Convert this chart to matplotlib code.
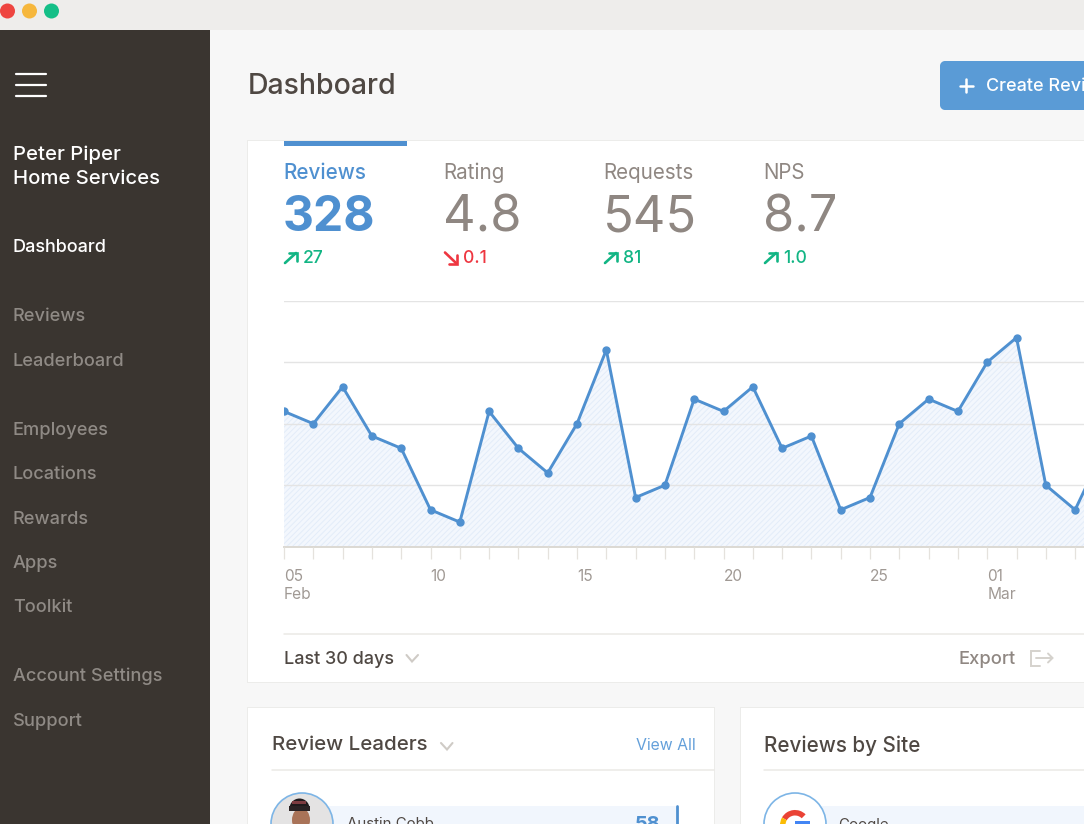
import matplotlib
matplotlib.use("Agg")
import matplotlib.pyplot as plt
from matplotlib.patches import Rectangle, FancyBboxPatch, Circle, Wedge, Ellipse

plt.rcParams['font.family'] = ['Inter', 'DejaVu Sans']
plt.rcParams['hatch.linewidth'] = 0.7
plt.rcParams['hatch.color'] = '#e3ecf9'

# ---- data ----
day_index = list(range(29))
reviews = [11, 10, 13, 9, 8, 3, 2, 11, 8, 6, 10, 16, 4, 5, 12, 11, 13, 8, 9, 3, 4, 10, 12, 11, 15, 17, 5, 3, 8]
tick_positions = [0, 5, 10, 15, 20, 24]
tick_days = ['05', '10', '15', '20', '25', '01']
tick_months = ['Feb', '', '', '', '', 'Mar']

kpi_names = ['Reviews', 'Rating', 'Requests', 'NPS']
kpi_values = ['328', '4.8', '545', '8.7']
kpi_deltas = ['27', '0.1', '81', '1.0']
kpi_up = [True, False, True, True]

nav_top = ['Dashboard']
nav_groups = ['Reviews', 'Leaderboard', 'Employees', 'Locations', 'Rewards', 'Apps', 'Toolkit', 'Account Settings', 'Support']

BLUE = '#4f90d0'
GREY = '#8f8782'
DARK = '#4f4843'
GREEN = '#12b584'
RED = '#ee3640'

W, H = 1084, 824
fig = plt.figure(figsize=(W / 100, H / 100), dpi=100)
bg = fig.add_axes([0, 0, 1, 1], zorder=0)
bg.set_xlim(0, W)
bg.set_ylim(H, 0)
bg.axis('off')


def px(size):
    return size * 0.72


def rect(x0, y0, x1, y1, color, ax=bg, z=1, **kw):
    ax.add_patch(Rectangle((x0, y0), x1 - x0, y1 - y0, fc=color, ec='none', zorder=z, **kw))


def txt(x, y, s, size, color, weight='normal', ha='left', va='center', z=6):
    bg.text(x, y + 1.5, s, fontsize=px(size), color=color, fontweight=weight, ha=ha, va=va, zorder=z)


def seg(xs, ys, color, lw=1.0, z=5):
    bg.plot(xs, ys, color=color, lw=lw, solid_capstyle='round', solid_joinstyle='miter', zorder=z)


# window chrome
rect(0, 0, W, H, '#f7f7f7', z=0)
rect(0, 0, W, 29.5, '#eeedeb')
rect(0, 29.5, 210, H, '#3a3530')
for cx, c in zip([7.5, 29.5, 51.5], ['#ee4540', '#f6b73c', '#14bf87']):
    bg.add_patch(Circle((cx, 11), 7.5, fc=c, ec='none', zorder=3))

# sidebar
for y in [74, 85, 96]:
    seg([15.5, 46], [y, y], 'white', 1.6)
txt(13, 153, 'Peter Piper', 20.3, 'white', 'medium')
txt(13, 177.5, 'Home Services', 20.3, 'white', 'medium')
txt(13, 246, nav_top[0], 18, 'white', 'medium')
for y, s in zip([315, 359.5, 428.5, 473, 517.5, 561.5, 605.5, 675, 719.5], nav_groups):
    txt(13, y, s, 18.2, '#8f8a85', 'medium')

# header
txt(248, 85, 'Dashboard', 28.5, DARK, 'medium')
bg.add_patch(FancyBboxPatch((944, 65), 160, 41, boxstyle='round,pad=0,rounding_size=1', fc='#5a9bd6',
                            ec='#5a9bd6', lw=8 * 0.72, joinstyle='round', zorder=2, clip_on=True))
seg([959.5, 972.5], [85.5, 85.5], 'white', 1.8)
seg([966, 966], [79, 92], 'white', 1.8)
txt(986, 84.5, 'Create Review', 18, 'white', 'medium')

# main card
rect(247, 140, W, 683, '#ececea', z=1)
rect(248, 141, W, 682, 'white', z=1)
rect(284, 141, 407, 145.5, BLUE, z=2)

for i, x in enumerate([284, 444, 604, 764]):
    active = i == 0
    col = BLUE if active else GREY
    txt(x - 1, 171, kpi_names[i], 20.6, col, 'medium' if active else 'normal')
    txt(x + (-1.5 if active else -1.5), 216.5, kpi_values[i], 48 if active else 50.5, col,
        'bold' if active else 'normal')
    dcol = GREEN if kpi_up[i] else RED
    txt(x + 19, 257, kpi_deltas[i], 17.5, dcol, 'medium')
    if kpi_up[i]:
        seg([x + 1, x + 12], [263, 253], dcol, 1.9)
        seg([x + 4.5, x + 12.5, x + 12.5], [253, 253, 261], dcol, 1.9)
    else:
        seg([x + 1, x + 12], [252.5, 263], dcol, 1.9)
        seg([x + 4.5, x + 12.5, x + 12.5], [263.5, 263.5, 255], dcol, 1.9)

# chart axes: day 0 at x=284, y=0 at the axis line, y=20 at the top rule
ax = fig.add_axes([284 / W, 1 - 546.7 / H, (W - 284) / W, 246 / H], zorder=1)
ax.patch.set_alpha(0)
ax.fill_between(day_index, reviews, 0, facecolor='#f3f7fd', edgecolor='#e3ecf9', hatch='//////', lw=0, zorder=1)
ax.set_yticks([0, 5, 10, 15, 20])
ax.yaxis.grid(True, color='#e4e4e4', lw=1.0, zorder=2)
ax.set_axisbelow(False)
ax.plot(day_index, reviews, color=BLUE, lw=2.1, marker='o', ms=5, mfc=BLUE, mec=BLUE, zorder=4, clip_on=True)
ax.tick_params(axis='y', length=0, labelleft=False)
ax.set_xticks(day_index)
ax.tick_params(axis='x', length=8.5, width=0.9, color='#e5e2dd', labelbottom=False)
ax.set_xlim(0, (W - 284) / 29.3)
ax.set_ylim(0, 20)
for s in ['top', 'left', 'right']:
    ax.spines[s].set_visible(False)
ax.spines['bottom'].set_color('#dcd9d3')
ax.spines['bottom'].set_linewidth(1.4)
ax.yaxis.get_gridlines()[0].set_visible(False)
for p, d, m in zip(tick_positions, tick_days, tick_months):
    ax.annotate(d, (p, 0), xytext=(0, -21.5), textcoords='offset points', fontsize=px(15.5), color='#a09994',
                ha='left', va='center', annotation_clip=False)
    if m:
        ax.annotate(m, (p, 0), xytext=(0, -34.5), textcoords='offset points', fontsize=px(15.5), color='#a09994',
                    ha='left', va='center', annotation_clip=False)

# card footer
seg([284, W], [634, 634], '#ebe9e6', 1.1)
txt(284, 657.5, 'Last 30 days', 18, DARK, 'medium')
seg([406.5, 412, 418], [655, 661.5, 655], '#cfcbc6', 1.5)
txt(958, 657.5, 'Export', 18.3, GREY, 'medium')
seg([1040, 1031, 1031, 1040], [650.5, 650.5, 666, 666], '#d5d2cd', 1.4)
seg([1036, 1052], [658, 658], '#d5d2cd', 1.4)
seg([1048, 1052.5, 1048], [653.5, 658, 662.5], '#d5d2cd', 1.4)

# lower cards
rect(247, 707, 715, H, '#ececea', z=1)
rect(248, 708, 714, H, 'white', z=1)
rect(740, 707, W, H, '#ececea', z=1)
rect(741, 708, W, H, 'white', z=1)
txt(272, 744, 'Review Leaders', 20.5, DARK, 'medium')
seg([441, 447, 452.5], [743, 749.5, 743], '#cfcbc6', 1.5)
txt(696, 744, 'View All', 15.8, '#64a0da', 'normal', ha='right')
txt(764.5, 744, 'Reviews by Site', 20.6, DARK, 'medium')
seg([272, 714], [769.5, 769.5], '#ebe9e6', 1.1)
seg([764, W], [769.5, 769.5], '#ebe9e6', 1.1)

# leader row
rect(320, 806, 677, H, '#f1f6fd', z=2, hatch='//////', lw=0)
seg([677, 677], [806, H], BLUE, 2)
bg.add_patch(Circle((302, 824), 31, fc='#e4e3e3', ec='#7db5e6', lw=1.2, zorder=3))
bg.add_patch(Ellipse((301, 820), 18, 24, fc='#a97358', ec='none', zorder=4))
bg.add_patch(Wedge((299.5, 808.5), 10, 180, 360, fc='#201a1c', ec='none', zorder=5))
rect(289, 806, 310, 810.5, '#2a2224', z=5)
rect(292, 801, 306, 803.5, '#7c3b40', z=6)
txt(347, 823, 'Austin Cobb', 15, DARK, 'normal')
txt(648, 823, '58', 20, BLUE, 'bold', ha='center')

# site row
rect(820, 806, W, H, '#f1f6fd', z=2, hatch='//////', lw=0)
bg.add_patch(Circle((795, 824), 31, fc='white', ec='#7db5e6', lw=1.2, zorder=3))
bg.add_patch(Wedge((795, 825), 15, 210, 315, width=5.5, fc='#ea4335', ec='none', zorder=4))
bg.add_patch(Wedge((795, 825), 15, 145, 210, width=5.5, fc='#fbbc05', ec='none', zorder=4))
bg.add_patch(Wedge((795, 825), 15, 45, 145, width=5.5, fc='#34a853', ec='none', zorder=4))
rect(795, 821, 810, H, '#4285f4', z=5)
txt(838, 823, 'Google', 15, DARK, 'normal')

fig.savefig('out.png', dpi=100)
